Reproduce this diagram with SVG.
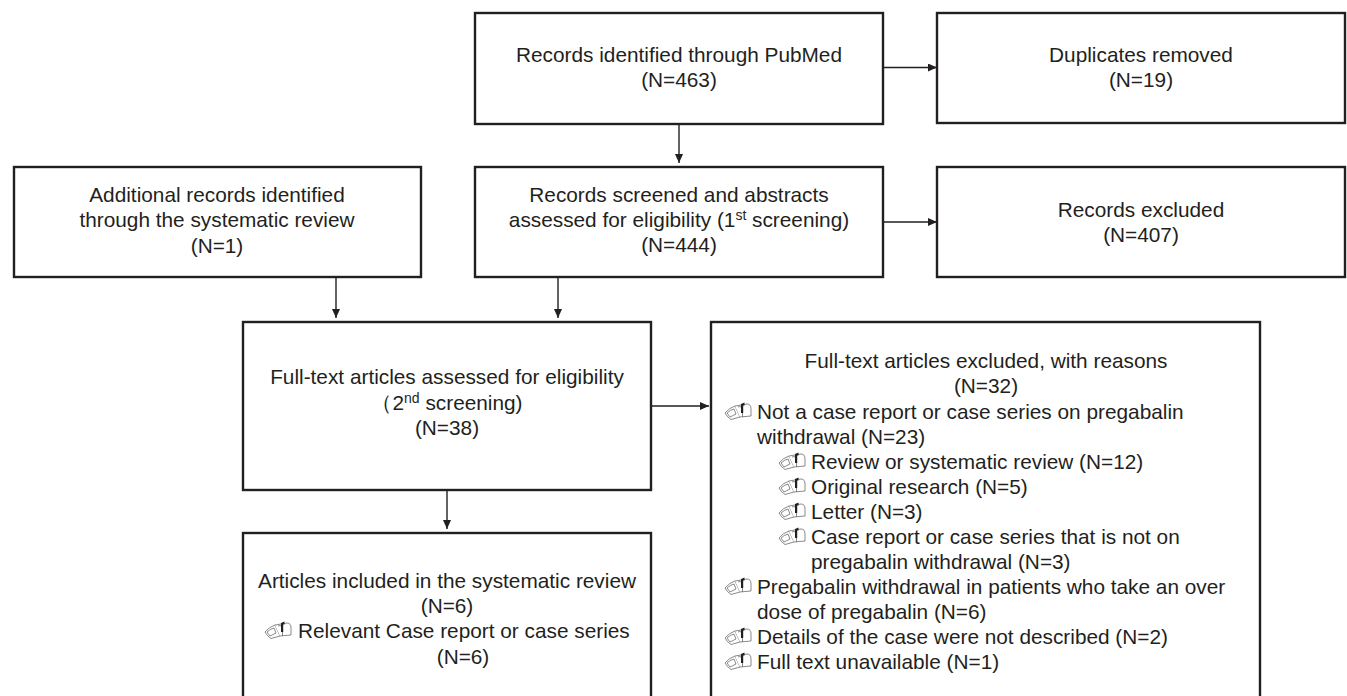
<svg xmlns="http://www.w3.org/2000/svg" width="1347" height="696" viewBox="0 0 1347 696">
<style>
text{font-family:"Liberation Sans",Arial,sans-serif;font-size:20.8px;fill:#231f20}
.c{text-anchor:middle}
.s{font-size:14px}
.b{fill:#fff;stroke:#231f20;stroke-width:2.4}
.l{fill:none;stroke:#231f20;stroke-width:1.4;marker-end:url(#a)}
.i{fill:#fff;stroke:#3a3a3a;stroke-width:.6}
</style>
<defs>
<marker id="a" markerUnits="userSpaceOnUse" markerWidth="10" markerHeight="8" refX="9" refY="4" orient="auto"><path d="M0 0L9 4L0 8z" fill="#231f20"/></marker>
<symbol id="m" viewBox="0 0 28 18" width="28" height="18" overflow="visible">
<path class="i" d="M1 11Q5 6 11 4L16 15L7 17.500Q3 15 1 11z"/>
<path class="i" d="M3 11Q6 8 10 7L12 12Q8 14 6 15z"/>
<path class="i" d="M11 4L17 3L23 2Q27 2 27 7L27 14L16 15"/>
<path class="i" d="M14 5Q18 3 18.500 9L18.500 15"/>
<path d="M17 2L20.500 0.500L20.500 3.500L19.200 3.500L19.200 11L17 11z" fill="#231f20"/>
</symbol>
</defs>
<rect width="1347" height="696" fill="#fff"/>
<g id="connectors">
<path class="l" d="M883 67.500H937"/><path class="l" d="M679 124V163"/><path class="l" d="M883 222H937"/>
<path class="l" d="M336 277V318"/><path class="l" d="M558 277V318"/><path class="l" d="M651 406H709"/><path class="l" d="M447 490V529"/>
</g>
<g id="n1"><rect class="b" x="475" y="13" width="408" height="111"/>
<text class="c" x="679" y="62">Records identified through PubMed</text><text class="c" x="679" y="87">(N=463)</text></g>
<g id="n2"><rect class="b" x="937" y="13" width="408" height="110"/>
<text class="c" x="1141" y="62">Duplicates removed</text><text class="c" x="1141" y="87">(N=19)</text></g>
<g id="n3"><rect class="b" x="14" y="167" width="407" height="110"/>
<text class="c" x="217" y="202">Additional records identified</text><text class="c" x="217" y="227">through the systematic review</text><text class="c" x="217" y="253">(N=1)</text></g>
<g id="n4"><rect class="b" x="475" y="167" width="408" height="110"/>
<text class="c" x="679" y="202">Records screened and abstracts</text><text class="c" x="679" y="227">assessed for eligibility (1<tspan class="s" dy="-7">st</tspan><tspan dy="7"> screening)</tspan></text><text class="c" x="679" y="252">(N=444)</text></g>
<g id="n5"><rect class="b" x="937" y="167" width="408" height="110"/>
<text class="c" x="1141" y="217">Records excluded</text><text class="c" x="1141" y="242">(N=407)</text></g>
<g id="n6"><rect class="b" x="243" y="322" width="408" height="168"/>
<text class="c" x="447" y="384">Full-text articles assessed for eligibility</text><text class="c" x="447" y="410">（2<tspan class="s" dy="-7">nd</tspan><tspan dy="7"> screening)</tspan></text><text class="c" x="447" y="435">(N=38)</text></g>
<g id="n7"><rect class="b" x="711" y="322" width="549" height="380"/>
<text class="c" x="986" y="368">Full-text articles excluded, with reasons</text><text class="c" x="986" y="393">(N=32)</text>
<use href="#m" x="724" y="402"/><text x="757" y="419">Not a case report or case series on pregabalin</text><text x="757" y="444">withdrawal (N=23)</text>
<use href="#m" x="778" y="452"/><text x="811" y="469">Review or systematic review (N=12)</text>
<use href="#m" x="778" y="477"/><text x="811" y="494">Original research (N=5)</text>
<use href="#m" x="778" y="502"/><text x="811" y="519">Letter (N=3)</text>
<use href="#m" x="778" y="527"/><text x="811" y="544">Case report or case series that is not on</text><text x="811" y="569">pregabalin withdrawal (N=3)</text>
<use href="#m" x="724" y="577"/><text x="757" y="594">Pregabalin withdrawal in patients who take an over</text><text x="757" y="619">dose of pregabalin (N=6)</text>
<use href="#m" x="724" y="627"/><text x="757" y="644">Details of the case were not described (N=2)</text>
<use href="#m" x="724" y="652"/><text x="757" y="669">Full text unavailable (N=1)</text></g>
<g id="n8"><rect class="b" x="243" y="533" width="408" height="170"/>
<text class="c" x="447" y="588">Articles included in the systematic review</text><text class="c" x="447" y="613">(N=6)</text>
<use href="#m" x="264" y="621"/><text x="298" y="638">Relevant Case report or case series</text><text class="c" x="463" y="664">(N=6)</text></g>
</svg>
